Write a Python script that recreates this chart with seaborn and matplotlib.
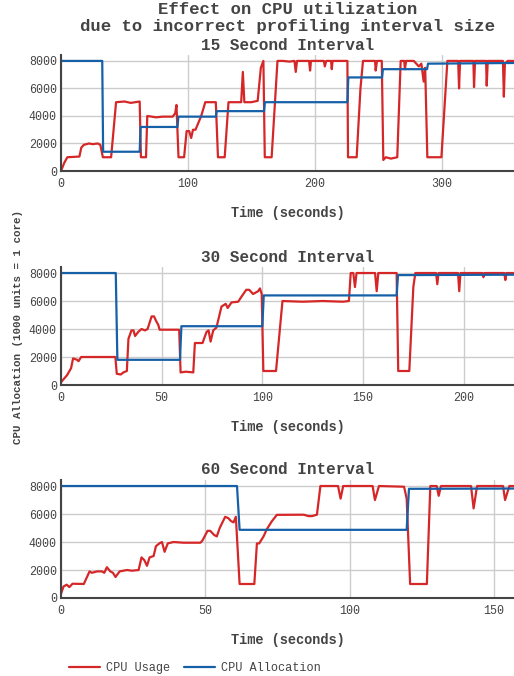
import pandas as pd
import matplotlib
matplotlib.use("Agg")
import matplotlib.pyplot as plt
import seaborn as sns

# ---- data ----
t15 = [0, 2.6, 5, 14.5, 16, 18, 22, 25, 29, 31, 33, 39.5, 43.4, 50, 55, 62, 63, 67, 68, 75,
       80, 88, 90, 91, 92.6, 97, 99, 101, 102.6, 104, 106, 110.5, 113.7, 122, 123.7, 129, 132,
       138, 142, 143.3, 144.5, 150, 155, 157.5, 159.5, 160.6, 166, 170.6, 175, 180, 184, 185,
       186, 190, 195.5, 196.3, 197, 202, 207.2, 207.9, 209, 212.8, 213.4, 214, 220, 225.7,
       226.2, 233, 236, 238, 245, 247.5, 248, 249, 252.8, 254, 256, 260, 265, 267.7, 270.5,
       271, 272, 278, 282, 284, 285.8, 287, 288.7, 290, 299.8, 304.5, 313, 313.7, 314.5, 325,
       325.5, 326.3, 335, 335.5, 336.3, 348.3, 349, 349.8, 352, 357]
use15 = [0, 600, 1000, 1050, 1700, 1900, 2000, 1950, 2000, 1900, 1000, 1000, 5000, 5050, 4950,
         5050, 1000, 1000, 4000, 3900, 3950, 3950, 4200, 4800, 1000, 1000, 2900, 2900, 2400,
         3000, 3000, 4000, 5000, 5000, 1000, 1000, 5000, 5000, 5000, 7200, 5000, 5000, 5100,
         7500, 8000, 1000, 1000, 8000, 8000, 7950, 8000, 7200, 8000, 8000, 8000, 7300, 8000,
         8000, 8000, 7600, 8000, 8000, 7400, 8000, 8000, 8000, 1000, 1000, 6000, 8000, 8000,
         8000, 7300, 8000, 8000, 800, 1000, 900, 1000, 8000, 8000, 7400, 8000, 8000, 7600,
         7800, 6500, 7500, 1000, 1000, 1000, 8000, 8000, 6000, 8000, 8000, 6100, 8000, 8000,
         6200, 8000, 8000, 5400, 7800, 8000, 8000]
ta15 = [0, 32.5, 33.2, 62, 62.7, 91.8, 92.5, 122, 122.7, 160, 160.7, 225.7, 226.4, 253, 253.7,
        288.5, 289.2, 357]
alloc15 = [8000, 8000, 1400, 1400, 3200, 3200, 3950, 3950, 4350, 4350, 5000, 5000, 6800, 6800,
           7400, 7400, 7800, 7850]

t30 = [0, 3, 5, 6, 8, 8.7, 10, 27, 27.7, 29.7, 31, 32.7, 33.5, 35, 36, 36.8, 38.4, 40, 41.7,
       43, 45, 46.2, 47.5, 48.3, 49, 58.7, 59.4, 62, 65.7, 66.5, 70.3, 72.3, 73.3, 74.3, 75.6,
       77.2, 79.7, 81.8, 82.8, 84.7, 88, 89.6, 92, 93.5, 95.4, 97.9, 98.8, 99.7, 100.5, 106.8,
       110, 120, 130, 140, 143, 143.9, 145.2, 146, 146.8, 156, 156.8, 157.6, 166.7, 167.5, 173,
       175, 176, 186.3, 186.9, 187.5, 197.2, 197.8, 198.4, 209.3, 209.8, 210.3, 220.2, 220.7,
       221.2, 225]
use30 = [200, 700, 1200, 1900, 1800, 1700, 2000, 2000, 800, 750, 900, 1000, 3300, 3900, 3900,
         3500, 3800, 4000, 3900, 4000, 4900, 4900, 4500, 4300, 3950, 3950, 900, 950, 900, 3000,
         3000, 3800, 3900, 3100, 3900, 4100, 5600, 5800, 5500, 5900, 5950, 6300, 6800, 6800,
         6500, 6700, 6900, 6500, 1000, 1000, 6000, 5950, 6000, 5950, 6000, 8000, 8000, 7000,
         8000, 8000, 6700, 8000, 8000, 1000, 1000, 7000, 8000, 8000, 7200, 8000, 8000, 6700,
         8000, 8000, 7700, 8000, 8000, 7500, 8000, 8000]
ta30 = [0, 27.2, 28, 59.1, 59.8, 100, 100.7, 166.7, 167.4, 225]
alloc30 = [8000, 8000, 1800, 1800, 4200, 4200, 6400, 6400, 7850, 7880]

t60 = [0, 0.9, 2, 2.9, 4, 7.9, 9.9, 10.7, 12.5, 14.2, 15, 15.9, 17.1, 18, 18.9, 20.3, 22.9,
       24.6, 26.9, 27.9, 28.9, 29.8, 30.7, 32.1, 32.9, 34.1, 35, 35.9, 37, 39, 42.5, 48.3, 49,
       50.8, 51.7, 53.1, 54, 55, 56.9, 58, 58.9, 59.8, 60.6, 61.9, 67, 67.9, 68.7, 70.2, 71.3,
       73, 74.8, 84.1, 85.8, 87, 88.7, 89.9, 96, 96.9, 97.8, 108, 108.8, 110.2, 118.9, 119.8,
       121, 126.8, 128, 130.2, 130.9, 131.7, 142.1, 143, 144.2, 153.2, 153.9, 155.4, 157]
use60 = [300, 830, 950, 780, 1020, 1000, 1900, 1800, 1900, 1900, 1800, 2200, 1900, 1800, 1500,
         1900, 2000, 1950, 2000, 2900, 2700, 2300, 2900, 3000, 3700, 3900, 4000, 3300, 3900,
         4000, 3950, 3950, 4100, 4800, 4800, 4500, 4400, 5000, 5800, 5700, 5500, 5400, 5800,
         1000, 1000, 3900, 3900, 4400, 4900, 5460, 5940, 5950, 5850, 5850, 5950, 8000, 8000,
         7100, 8000, 8000, 7000, 8000, 7950, 7100, 1000, 1000, 8000, 8000, 7300, 8000, 8000,
         6400, 8000, 8000, 7000, 8000, 8000]
ta60 = [0, 61, 61.9, 119.8, 120.6, 157]
alloc60 = [8000, 8000, 4870, 4870, 7800, 7820]

panel_titles = ["15 Second Interval", "30 Second Interval", "60 Second Interval"]
xmax = [357, 225, 157]
xticks = [[0, 100, 200, 300], [0, 50, 100, 150, 200], [0, 50, 100, 150]]
yticks = [0, 2000, 4000, 6000, 8000]

RED = "#d62728"
BLUE = "#1660a8"

sns.set_theme(style="white")
plt.rcParams["font.family"] = ["Liberation Mono", "DejaVu Sans Mono"]

fig = plt.figure(figsize=(5.14, 6.76), dpi=100)
W, H = 514, 676

# axes boxes in pixels: (top, bottom)
boxes = [(55, 171), (267, 385), (480, 598)]
series = [(t15, use15, ta15, alloc15), (t30, use30, ta30, alloc30), (t60, use60, ta60, alloc60)]

for i, ((top, bot), (tu, u, ta, a)) in enumerate(zip(boxes, series)):
    ax = fig.add_axes([61 / W, 1 - bot / H, 1 - 61 / W, (bot - top) / H])
    du = pd.DataFrame({"t": tu, "v": u})
    da = pd.DataFrame({"t": ta, "v": a})
    sns.lineplot(data=du, x="t", y="v", ax=ax, color=RED, lw=1.6, estimator=None,
                 label="CPU Usage" if i == 0 else None, legend=False)
    sns.lineplot(data=da, x="t", y="v", ax=ax, color=BLUE, lw=1.6, estimator=None,
                 label="CPU Allocation" if i == 0 else None, legend=False)
    ax.set_xlim(0, xmax[i])
    ax.set_ylim(0, 8430)
    ax.set_xticks(xticks[i])
    ax.set_yticks(yticks)
    ax.grid(True, color="#cccccc", lw=1)
    ax.set_axisbelow(True)
    for s in ["top", "right"]:
        ax.spines[s].set_visible(False)
    for s in ["left", "bottom"]:
        ax.spines[s].set_color("#444444")
        ax.spines[s].set_linewidth(1.5)
    ax.tick_params(length=0, labelsize=8.4, labelcolor="#444444", pad=3)
    ax.tick_params(axis="x", pad=5)
    ax.set_xlabel("")
    ax.set_ylabel("")
    ax.patch.set_alpha(0)
    fig.text(287.5 / W, 1 - (top - 10) / H, panel_titles[i], ha="center", va="center",
             fontsize=11.5, fontweight="bold", color="#444444")
    fig.text(287.5 / W, 1 - (bot + 42) / H, "Time (seconds)", ha="center", va="center",
             fontsize=9.8, fontweight="bold", color="#444444")
    if i == 0:
        handles, labels = ax.get_legend_handles_labels()

fig.text(287.5 / W, 1 - 10 / H, "Effect on CPU utilization",
         ha="center", va="center", fontsize=12.4, fontweight="bold", color="#444444")
fig.text(287.5 / W, 1 - 27 / H, "due to incorrect profiling interval size",
         ha="center", va="center", fontsize=12.4, fontweight="bold", color="#444444")
fig.text(18 / W, 1 - 327 / H, "CPU Allocation (1000 units = 1 core)", rotation=90,
         ha="center", va="center", fontsize=7.8, fontweight="bold", color="#444444")

leg = fig.legend(handles, labels, loc="center", bbox_to_anchor=(195 / W, 1 - 668 / H),
                 ncol=2, frameon=False, fontsize=8.6, handlelength=2.6, columnspacing=1.2,
                 handletextpad=0.5)
for txt in leg.get_texts():
    txt.set_color("#444444")

fig.savefig("out.png", dpi=100)
